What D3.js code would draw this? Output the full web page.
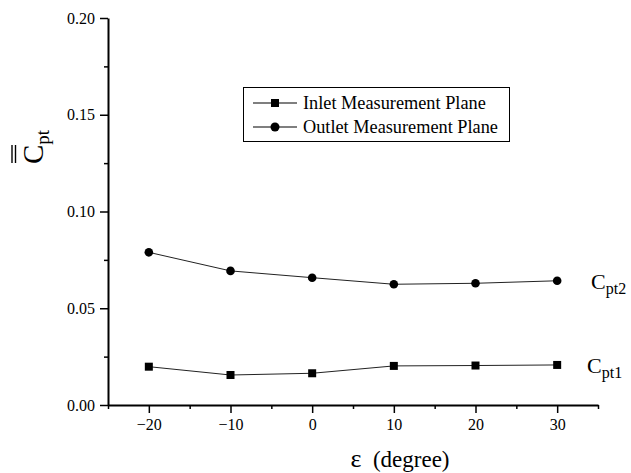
<!DOCTYPE html>
<html><head><meta charset="utf-8">
<script src="https://cdn.jsdelivr.net/npm/d3@7"></script>
<style>
body{margin:0;background:#fff;}
svg{display:block;font-family:"Liberation Serif","Times New Roman",serif;}
</style></head>
<body><svg id="c" width="631" height="473"></svg>
<script>
const angles = [-20, -10, 0, 10, 20, 30];
const inletValues = [0.0198, 0.0155, 0.0164, 0.0202, 0.0204, 0.0207];
const outletValues = [0.0789, 0.0693, 0.0658, 0.0624, 0.0629, 0.0642];
const xTicks = [-20, -10, 0, 10, 20, 30];
const xMinorTicks = [-25, -15, -5, 5, 15, 25, 35];
const yTicks = [0, 0.05, 0.10, 0.15, 0.20];
const yMinorTicks = [0.025, 0.075, 0.125, 0.175];
const seriesNames = ["Inlet Measurement Plane", "Outlet Measurement Plane"];

const svg = d3.select("#c");
const x = d3.scaleLinear().domain([-25, 35]).range([108, 598]);
const y = d3.scaleLinear().domain([0, 0.20]).range([405, 18]);

// axes
const gx = svg.append("g").attr("transform", "translate(0,405)");
gx.call(d3.axisBottom(x).tickValues(xMinorTicks).tickSize(4).tickSizeOuter(0).tickFormat(""));
gx.call(g => g.select(".domain").remove());
const gx2 = svg.append("g").attr("transform", "translate(0,405)");
gx2.call(d3.axisBottom(x).tickValues(xTicks).tickSize(8).tickSizeOuter(0).tickPadding(6)
  .tickFormat(d => d < 0 ? "\u2212" + Math.abs(d) : d));

const gy = svg.append("g").attr("transform", "translate(108,0)");
gy.call(d3.axisLeft(y).tickValues(yMinorTicks).tickSize(4).tickSizeOuter(0).tickFormat(""));
gy.call(g => g.select(".domain").remove());
const gy2 = svg.append("g").attr("transform", "translate(108,0)");
gy2.call(d3.axisLeft(y).tickValues(yTicks).tickSize(8).tickSizeOuter(0).tickPadding(5)
  .tickFormat(d3.format(".2f")));

svg.selectAll(".domain").attr("stroke", "#000").attr("stroke-width", 2);
svg.selectAll(".tick line").attr("stroke", "#000").attr("stroke-width", 1.5);
svg.selectAll(".tick text").attr("fill", "#000").attr("font-size", 16)
  .attr("font-family", "Liberation Serif, Times New Roman, serif");

// lines
const line = d3.line().x((d, i) => x(angles[i])).y(d => y(d));
svg.append("path").datum(inletValues).attr("d", line).attr("fill", "none").attr("stroke", "#222").attr("stroke-width", 1);
svg.append("path").datum(outletValues).attr("d", line).attr("fill", "none").attr("stroke", "#222").attr("stroke-width", 1);

svg.selectAll(".sq").data(inletValues).join("rect")
  .attr("x", (d, i) => x(angles[i]) - 4).attr("y", d => y(d) - 4)
  .attr("width", 8).attr("height", 8).attr("fill", "#000");
svg.selectAll(".ci").data(outletValues).join("circle")
  .attr("cx", (d, i) => x(angles[i])).attr("cy", d => y(d)).attr("r", 4.3).attr("fill", "#000");

// series labels
function cLabel(xp, yp, sub) {
  const t = svg.append("text").attr("x", xp).attr("y", yp).attr("font-size", 22).attr("fill", "#000");
  t.append("tspan").text("C");
  t.append("tspan").attr("font-size", 16).attr("dy", 5).text(sub);
}
cLabel(591, y(outletValues[5]) + 8, "pt2");
cLabel(587, y(inletValues[5]) + 8, "pt1");

// legend
const lg = svg.append("g");
lg.append("rect").attr("x", 243.5).attr("y", 87.5).attr("width", 266).attr("height", 54)
  .attr("fill", "#fff").attr("stroke", "#000").attr("stroke-width", 1);
seriesNames.forEach((name, i) => {
  const cy = 103 + i * 24;
  lg.append("line").attr("x1", 253).attr("x2", 297).attr("y1", cy).attr("y2", cy).attr("stroke", "#000").attr("stroke-width", 1.2);
  if (i === 0) lg.append("rect").attr("x", 271).attr("y", cy - 4).attr("width", 8).attr("height", 8).attr("fill", "#000");
  else lg.append("circle").attr("cx", 275).attr("cy", cy).attr("r", 4.5).attr("fill", "#000");
  lg.append("text").attr("x", 303).attr("y", cy + 6).attr("font-size", 18.3).attr("fill", "#000").text(name);
});

// x title
const xt = svg.append("text").attr("x", 400).attr("y", 467).attr("text-anchor", "middle").attr("font-size", 23).attr("fill", "#000");
xt.append("tspan").attr("font-size", 26).text("\u03B5");
xt.append("tspan").text("\u2002(degree)");

// y title
const yt = svg.append("g").attr("transform", "translate(43,164) rotate(-90)");
const ytt = yt.append("text").attr("x", 0).attr("y", 0).attr("font-size", 29).attr("fill", "#000");
ytt.append("tspan").text("C");
ytt.append("tspan").attr("font-size", 19).attr("dy", 6).text("pt");
yt.append("line").attr("x1", 1).attr("x2", 19).attr("y1", -31).attr("y2", -31).attr("stroke", "#000").attr("stroke-width", 1.4);
yt.append("line").attr("x1", 1).attr("x2", 19).attr("y1", -27.5).attr("y2", -27.5).attr("stroke", "#000").attr("stroke-width", 1.4);
</script></body></html>
